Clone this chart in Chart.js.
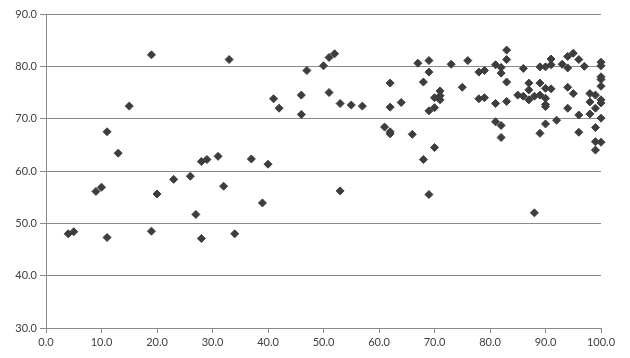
<!DOCTYPE html>
<html>
<head>
<meta charset="utf-8">
<script src="https://cdn.jsdelivr.net/npm/chart.js@4/dist/chart.umd.min.js"></script>
<style>
  html, body { margin: 0; padding: 0; background: #ffffff; }
  #wrap { width: 630px; height: 358px; }
</style>
</head>
<body>
<div id="wrap"><canvas id="c" width="630" height="358"></canvas></div>
<script>
const xValues = [4,5,9,10,11,11,13,15,19,19,20,23,26,27,28,28,29,31,32,33,34,37,39,40,41,42,46,46,47,50,51,52,51,53,53,55,57,61,62,62,62,62,64,66,67,68,68,69,69,69,69,70,70,70,71,71,71,73,75,76,78,79,78,79,81,81,81,82,82,82,82,83,83,83,83,85,86,86,87,87,87,88,88,89,89,89,89,90,90,90,90,90,90,91,91,91,92,93,94,94,94,94,95,95,96,96,96,97,98,98,98,99,99,99,99,99,100,100,100,100,100,100,100,100,100];
const yValues = [48.0,48.4,56.1,56.9,67.5,47.3,63.4,72.4,82.2,48.5,55.6,58.4,59.0,51.7,61.8,47.1,62.2,62.8,57.1,81.3,48.0,62.3,53.9,61.3,73.8,72.0,74.5,70.8,79.2,80.1,81.7,82.4,75.0,72.9,56.2,72.6,72.4,68.4,76.8,72.2,67.5,67.1,73.1,67.0,80.6,77.0,62.2,81.1,78.9,71.5,55.5,74.0,72.1,64.5,75.3,74.4,73.6,80.4,76.0,81.1,78.9,79.2,73.8,74.0,80.3,72.9,69.4,79.8,78.7,68.7,66.4,83.1,81.3,77.0,73.3,74.5,79.6,74.3,76.8,75.5,73.6,74.3,52.0,79.9,76.8,74.5,67.2,79.9,75.8,73.9,72.7,72.3,69.0,81.4,80.3,75.7,69.7,80.4,81.9,79.7,76.0,72.0,82.5,74.8,81.3,70.7,67.4,80.0,74.8,73.2,70.9,74.5,72.0,68.3,65.6,64.0,80.8,80.1,78.0,77.5,76.2,73.6,73.0,70.1,65.5];
const xTicks = [0,10,20,30,40,50,60,70,80,90,100];
const yTicks = [30,40,50,60,70,80,90];

const points = xValues.map((x, i) => ({ x: x, y: yValues[i] }));
const gridColor = '#8a8a8a';
const textColor = '#404040';

new Chart(document.getElementById('c'), {
  type: 'scatter',
  data: {
    datasets: [{
      data: points,
      clip: false,
      pointStyle: 'rectRot',
      pointRadius: 4,
      pointHoverRadius: 4,
      backgroundColor: '#3d3d3d',
      borderColor: '#3d3d3d',
      borderWidth: 1
    }]
  },
  options: {
    responsive: false,
    animation: false,
    events: [],
    layout: { padding: { left: 0, right: 29, top: 14, bottom: 0 } },
    plugins: { legend: { display: false }, tooltip: { enabled: false } },
    scales: {
      x: {
        type: 'linear',
        min: 0, max: 100,
        afterBuildTicks: s => { s.ticks = xTicks.map(v => ({ value: v })); },
        afterFit: s => { s.height = 30; },
        border: { display: true, color: gridColor, width: 1 },
        grid: { drawOnChartArea: false, drawTicks: true, tickLength: 5, color: gridColor },
        ticks: {
          color: textColor,
          font: { family: 'Lato', size: 11 },
          padding: 3,
          maxRotation: 0,
          callback: v => Number(v).toFixed(1)
        }
      },
      y: {
        type: 'linear',
        min: 30, max: 90,
        afterBuildTicks: s => { s.ticks = yTicks.map(v => ({ value: v })); },
        afterFit: s => { s.width = 46; },
        border: { display: true, color: gridColor, width: 1 },
        grid: { drawOnChartArea: true, drawTicks: true, tickLength: 6, color: gridColor },
        ticks: {
          color: textColor,
          font: { family: 'Lato', size: 11 },
          padding: 3,
          callback: v => Number(v).toFixed(1)
        }
      }
    }
  }
});
</script>
</body>
</html>
